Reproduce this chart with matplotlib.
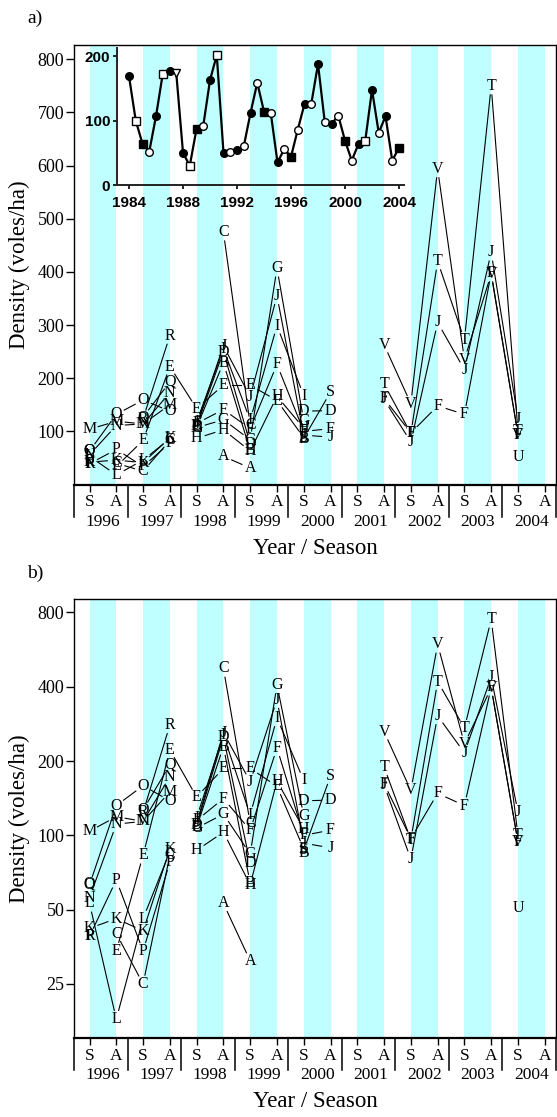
import numpy as np
import matplotlib
matplotlib.use("Agg")
import matplotlib.pyplot as plt
from matplotlib.transforms import blended_transform_factory
from matplotlib.lines import Line2D
from matplotlib.ticker import FixedLocator, NullLocator, FixedFormatter

n = np.nan

years = [1996, 1997, 1998, 1999, 2000, 2001, 2002, 2003, 2004]
seasons = ["S", "A"]

# Density (voles/ha) per site; slots: S96, A96, S97, A97, ..., S04, A04
dens_A = [n, n, n, n, n, 53, 31, n, n, n, n, n, n, n, n, n, n, n]
dens_B = [n, n, n, n, 108, 229, 64, n, 85, n, n, n, n, n, n, n, n, n]
dens_C = [n, 40, 25, 83, n, 475, 112, n, n, n, n, n, n, n, n, n, n, n]
dens_D = [n, n, n, n, 110, 250, 77, n, 138, 139, n, n, n, n, n, n, n, n]
dens_E = [n, 34, 83, 222, 143, 187, 187, 158, 88, n, n, n, n, n, n, n, n, n]
dens_F = [n, n, n, n, 115, 141, 105, 226, 100, 105, n, 162, 97, 148, 132, 398, 94, n]
dens_G = [n, n, n, n, 107, 122, 84, 407, 120, n, n, n, n, n, n, n, n, n]
dens_H = [n, n, n, n, 87, 103, 63, 166, 106, n, n, n, n, n, n, n, n, n]
dens_I = [n, n, n, n, 118, 255, 121, 299, 167, n, n, n, n, n, n, n, n, n]
dens_J = [n, n, n, n, 112, 261, 165, 355, 93, 89, n, 160, 80, 305, 216, 437, 124, n]
dens_K = [42, 46, 41, 88, n, n, n, n, n, n, n, n, n, n, n, n, n, n]
dens_L = [53, 18, 46, 86, n, n, n, n, n, n, n, n, n, n, n, n, n, n]
dens_M = [104, 119, 114, 150, n, n, n, n, n, n, n, n, n, n, n, n, n, n]
dens_N = [56, 111, 114, 173, n, n, n, n, n, n, n, n, n, n, n, n, n, n]
dens_O = [63, 132, 159, 138, n, n, n, n, n, n, n, n, n, n, n, n, n, n]
dens_P = [39, 66, 34, 78, n, n, n, n, n, n, n, n, n, n, n, n, n, n]
dens_Q = [64, n, 127, 193, n, n, n, n, n, n, n, n, n, n, n, n, n, n]
dens_R = [39, n, 124, 280, n, n, n, n, n, n, n, n, n, n, n, n, n, n]
dens_S = [n, n, n, n, n, n, n, n, 87, 174, n, n, n, n, n, n, n, n]
dens_T = [n, n, n, n, n, n, n, n, n, n, n, 189, 96, 420, 272, 750, 100, n]
dens_U = [n, n, n, n, n, n, n, n, n, n, n, n, n, n, n, n, 51, n]
dens_V = [n, n, n, n, n, n, n, n, n, n, n, 263, 152, 594, 235, 396, 94, n]

site_letters = list("ABCDEFGHIJKLMNOPQRSTUV")
site_values = [dens_A, dens_B, dens_C, dens_D, dens_E, dens_F, dens_G, dens_H,
               dens_I, dens_J, dens_K, dens_L, dens_M, dens_N, dens_O, dens_P,
               dens_Q, dens_R, dens_S, dens_T, dens_U, dens_V]

# Long-term series (inset), half-yearly from 1984
inset_start = 1984
inset_vals = [169, 100, 64, 52, 107, 173, 178, 174, 50, 30, 87, 92, 163, 202,
              50, 52, 54, 60, 112, 159, 114, 112, 35, 56, 44, 86, 126, 126,
              188, 98, 95, 108, 69, 38, 64, 69, 148, 81, 107, 38, 58]
inset_ticks = [1984, 1988, 1992, 1996, 2000, 2004]
inset_yticks = [0, 100, 200]

# ---------------------------------------------------------------
plt.rcParams['font.family'] = ['Liberation Serif', 'DejaVu Serif']
W, H = 557, 1117
fig = plt.figure(figsize=(W / 100, H / 100), dpi=100)

S_OFF, A_OFF = 0.29, 0.79
season_x = []
for yr in years:
    season_x += [yr + S_OFF, yr + A_OFF]
season_lab = seasons * len(years)

BAND = '#C0FFFF'
GAP = 9.0  # pixel gap around letters


def px_rect(l, t, r, b):
    return [l / W, 1 - b / H, (r - l) / W, (b - t) / H]


def draw_site(ax, xs, ys, letter):
    for x, y in zip(xs, ys):
        if not np.isnan(y):
            ax.text(x, y, letter, ha='center', va='center', fontsize=11.5,
                    zorder=4)
    tr = ax.transData
    inv = tr.inverted()
    for i in range(len(xs) - 1):
        if np.isnan(ys[i]) or np.isnan(ys[i + 1]):
            continue
        p1 = tr.transform((xs[i], ys[i]))
        p2 = tr.transform((xs[i + 1], ys[i + 1]))
        d = p2 - p1
        L = np.hypot(d[0], d[1])
        if L <= 2 * GAP:
            continue
        u = d / L
        a = inv.transform(p1 + u * GAP)
        b = inv.transform(p2 - u * GAP)
        ax.add_line(Line2D([a[0], b[0]], [a[1], b[1]], color='black',
                           lw=0.8, zorder=3))


def setup_panel(ax, log):
    ax_h = ax.get_position().height * H
    ax.set_xlim(1996, 2005)
    if log:
        ax.set_yscale('log')
        ax.set_ylim(15.1, 907)
        yt = [25, 50, 100, 200, 400, 800]
    else:
        ax.set_ylim(0, 827)
        yt = [100, 200, 300, 400, 500, 600, 700, 800]
    ax.yaxis.set_major_locator(FixedLocator(yt))
    ax.yaxis.set_major_formatter(FixedFormatter([str(v) for v in yt]))
    ax.yaxis.set_minor_locator(NullLocator())
    ax.set_autoscale_on(False)
    for yr in years:
        ax.axvspan(yr + S_OFF, yr + A_OFF, color=BAND, lw=0, zorder=0)
    ax.set_xticks(season_x)
    ax.set_xticklabels(season_lab)
    ax.xaxis.set_minor_locator(NullLocator())
    ax.tick_params(axis='x', direction='out', length=5, width=1,
                   labelsize=12.5, pad=2)
    ax.tick_params(axis='y', direction='out', length=6, width=1,
                   labelsize=13, pad=1)
    for s in ['left', 'top', 'right']:
        ax.spines[s].set_linewidth(1.0)
    ax.spines['bottom'].set_linewidth(1.6)
    bt = blended_transform_factory(ax.transData, ax.transAxes)
    hh = 32 / ax_h
    for yr in years + [years[-1] + 1]:
        ax.add_line(Line2D([yr, yr], [0, -hh], transform=bt, color='black',
                           lw=1.1, clip_on=False))
    for yr in years:
        ax.text(yr + 0.54, -37 / ax_h, str(yr), transform=bt, ha='center',
                va='center', fontsize=12.5)
    for letter, vals in zip(site_letters, site_values):
        draw_site(ax, season_x, vals, letter)


axa = fig.add_axes(px_rect(74, 45, 556, 484.5))
axb = fig.add_axes(px_rect(74, 599, 556, 1038))
setup_panel(axa, False)
setup_panel(axb, True)

fig.text(35 / W, 1 - 18 / H, 'a)', ha='center', va='center', fontsize=14)
fig.text(35 / W, 1 - 573 / H, 'b)', ha='center', va='center', fontsize=14)
for yc in (264.75, 818.5):
    fig.text(19.5 / W, 1 - yc / H, 'Density (voles/ha)', rotation=90,
             ha='center', va='center', fontsize=16.5)
for yc in (548.2, 1101.7):
    fig.text(315 / W, 1 - yc / H, 'Year / Season', ha='center', va='center',
             fontsize=16.5)

# inset
axi = fig.add_axes(px_rect(117, 48, 404, 185))
axi.patch.set_alpha(0)
axi.spines['top'].set_visible(False)
axi.spines['right'].set_visible(False)
for s in ['left', 'bottom']:
    axi.spines[s].set_linewidth(1.4)
    axi.spines[s].set_color('#222222')
tx = [inset_start + 0.5 * i for i in range(len(inset_vals))]
axi.plot(tx, inset_vals, color='black', lw=1.6, zorder=2)
shapes = ['o', 's', 's', 'o', 'o', 's', 'o', 'v', 'o', 's', 's', 'o', 'o', 's',
          'o', 'o', 'o', 'o', 'o', 'o', 's', 'o', 'o', 'o', 's', 'o', 'o', 'o',
          'o', 'o', 'o', 'o', 's', 'o', 'o', 's', 'o', 'o', 'o', 'o', 's']
for i, (x, v) in enumerate(zip(tx, inset_vals)):
    fc = 'black' if i % 2 == 0 else 'white'
    axi.plot([x], [v], marker=shapes[i], ms=5.5, mfc=fc, mec='black',
             mew=1.0, zorder=3, linestyle='none')
axi.set_xlim(1983.11, 2004.37)
axi.set_ylim(0, 213)
axi.set_xticks(inset_ticks)
axi.set_xticklabels([str(t) for t in inset_ticks])
axi.set_yticks(inset_yticks)
axi.set_yticklabels([str(t) for t in inset_yticks])
for lab in axi.get_xticklabels() + axi.get_yticklabels():
    lab.set_family(['Liberation Sans', 'DejaVu Sans'])
    lab.set_fontweight('bold')
axi.tick_params(axis='x', direction='out', length=3, width=1.2,
                labelsize=11, pad=5, colors='black')
axi.tick_params(axis='y', direction='out', length=3, width=1.2,
                labelsize=11, pad=2, colors='black')

fig.savefig('out.png', dpi=100)
